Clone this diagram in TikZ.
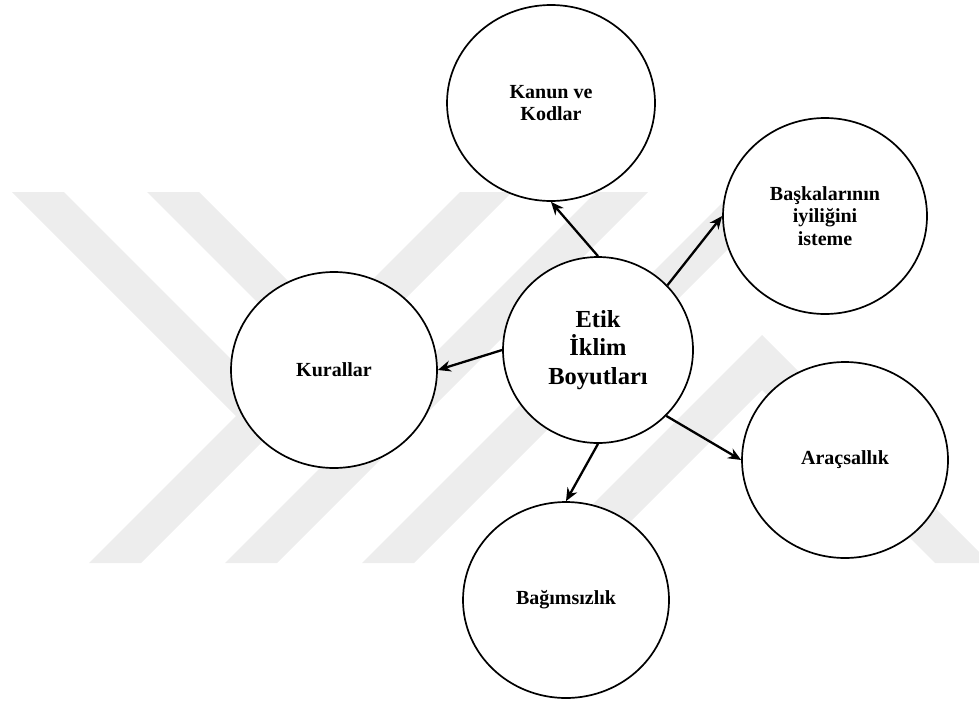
\documentclass[tikz,border=0pt]{standalone}
\usepackage{fontspec}
\setmainfont{Liberation Serif}
\usetikzlibrary{shapes.geometric, arrows.meta}
\definecolor{wmgray}{RGB}{237,237,237}
\tikzstyle{bubble} = [ellipse, minimum width=206pt, minimum height=196pt, inner sep=0pt, align=center, draw=black, line width=1.7pt, fill=white, font=\fontsize{20}{22.5}\selectfont\bfseries]
\tikzstyle{hub} = [bubble, minimum width=190pt, minimum height=186pt, font=\fontsize{24.5}{28.5}\selectfont\bfseries]
\tikzstyle{arrow} = [line width=2.3pt, -{Stealth[length=13pt, width=11pt]}]

\begin{document}
\begin{tikzpicture}[x=1pt, y=-1pt]
        \useasboundingbox (0,0) rectangle (979,701);
        % Watermark
        \begin{scope}
        \clip (0,192) rectangle (979,563);
        \fill[wmgray] (12,192) -- (64,192) -- (262,390) -- (236,416) -- cycle;
        \fill[wmgray] (147,192) -- (199,192) -- (397,390) -- (371,416) -- cycle;
        \fill[wmgray] (89,563) -- (141,563) -- (512,192) -- (460,192) -- cycle;
        \fill[wmgray] (225,563) -- (277,563) -- (648,192) -- (596,192) -- cycle;
        \fill[wmgray] (362,563) -- (414,563) -- (785,192) -- (733,192) -- cycle;
        \fill[wmgray] (534,563) -- (762,335) -- (990,563) -- (935,563) -- (762,390) -- (589,563) -- cycle;
        \end{scope}

        % Nodes
        \node (etik) [hub] at (598,350) {Etik\\İklim\\Boyutları};
        \node (kanun) [bubble, minimum width=208pt] at (551,103) {Kanun ve\\Kodlar};
        \node (iyilik) [bubble, minimum width=204pt] at (825,216) {Başkalarının\\iyiliğini\\isteme};
        \node (kural) [bubble] at (334,370) {Kurallar};
        \node (arac) [bubble] at (845,460) {Araçsallık};
        \node (bagim) [bubble] at (566,600) {Bağımsızlık};

        % Arrows
        \draw [arrow] (etik.north) -- (kanun.south);
        \draw [arrow] (etik.43) -- (iyilik.west);
        \draw [arrow] (etik.west) -- (kural.east);
        \draw [arrow] (etik.-44) -- (arac.west);
        \draw [arrow] (etik.south) -- (bagim.north);
    \end{tikzpicture}
\end{document}
